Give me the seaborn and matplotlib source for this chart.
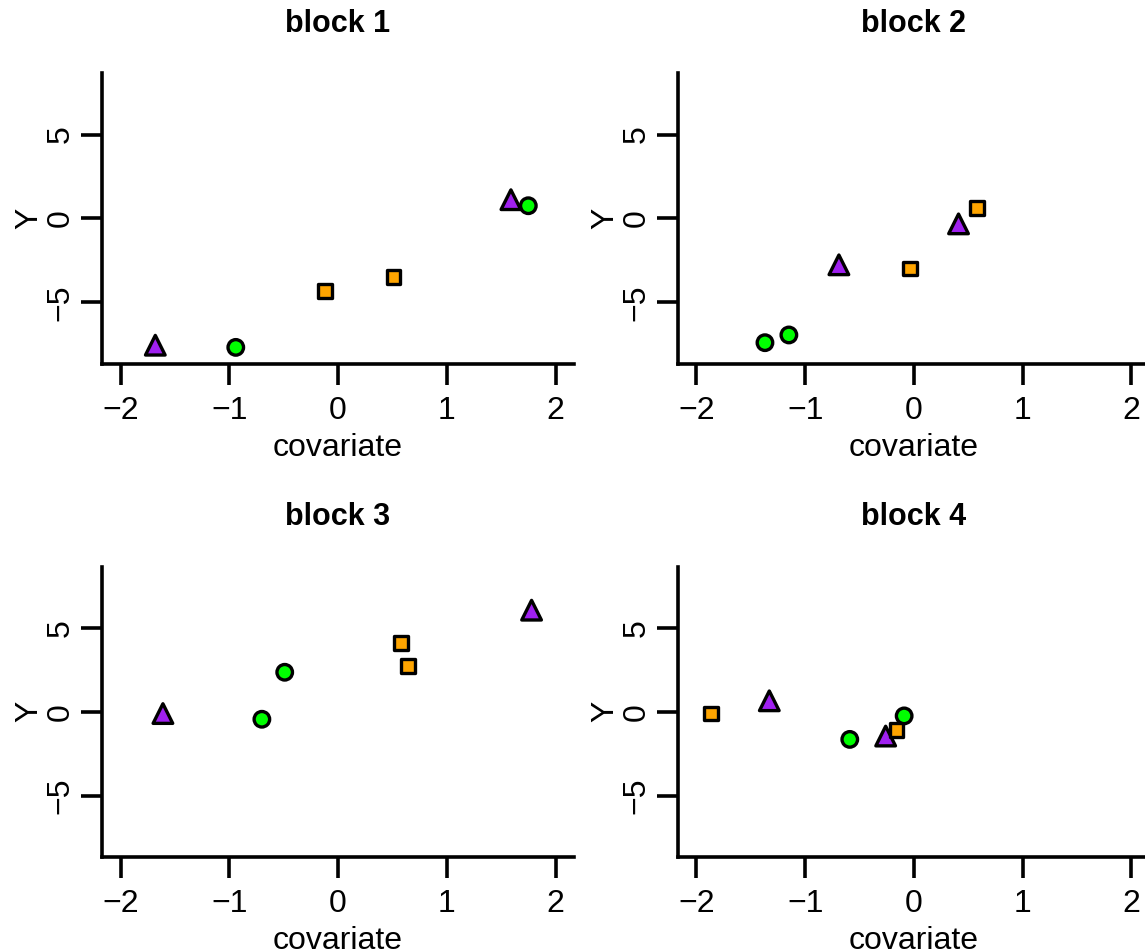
import pandas as pd
import matplotlib
import matplotlib.pyplot as plt
import seaborn as sns

matplotlib.use("Agg")

# values, one list per column
block = [1, 1, 1, 1, 1, 1,
         2, 2, 2, 2, 2, 2,
         3, 3, 3, 3, 3, 3,
         4, 4, 4, 4, 4, 4]
treatment = ["C", "A", "B", "B", "C", "A",
             "A", "A", "C", "B", "C", "B",
             "C", "A", "A", "B", "B", "C",
             "B", "C", "A", "C", "B", "A"]
covariate = [-1.68, -0.94, -0.12, 0.51, 1.59, 1.75,
             -1.37, -1.15, -0.69, -0.04, 0.41, 0.58,
             -1.61, -0.70, -0.49, 0.58, 0.64, 1.78,
             -1.87, -1.33, -0.59, -0.26, -0.16, -0.09]
response = [-7.55, -7.68, -4.34, -3.50, 1.12, 0.76,
            -7.40, -6.94, -2.76, -2.98, -0.32, 0.62,
            -0.10, -0.44, 2.36, 4.10, 2.72, 6.06,
            -0.10, 0.66, -1.64, -1.44, -1.08, -0.24]

groups = ["A", "B", "C"]
group_colors = {"A": "#00FF00", "B": "#FFA500", "C": "#A020F0"}
group_markers = {"A": "o", "B": "s", "C": "^"}
group_sizes = {"A": 125, "B": 100, "C": 200}
x_ticks = [-2, -1, 0, 1, 2]
y_ticks = [-5, 0, 5]

df = pd.DataFrame(
    {"block": block, "treatment": treatment, "covariate": covariate, "Y": response}
)

sns.set_style("ticks")
plt.rcParams.update(
    {
        "font.family": ["Liberation Sans", "DejaVu Sans"],
        "axes.linewidth": 2.6,
        "axes.edgecolor": "black",
        "axes.labelcolor": "black",
        "text.color": "black",
        "xtick.color": "black",
        "ytick.color": "black",
    }
)

fig = plt.figure(figsize=(11.45, 9.51), dpi=100)

# [left, bottom, width, height] in figure fractions, panels in reading order
boxes = [
    [0.0891, 0.6176, 0.4122, 0.3053],
    [0.5921, 0.6176, 0.4122, 0.3053],
    [0.0891, 0.0988, 0.4122, 0.3053],
    [0.5921, 0.0988, 0.4122, 0.3053],
]

for b, box in zip(range(1, 5), boxes):
    ax = fig.add_axes(box)
    sub = df[df["block"] == b]
    sns.scatterplot(
        data=sub,
        x="covariate",
        y="Y",
        hue="treatment",
        style="treatment",
        size="treatment",
        hue_order=groups,
        style_order=groups,
        size_order=groups,
        palette=group_colors,
        markers=group_markers,
        sizes=group_sizes,
        edgecolor="black",
        linewidth=2.4,
        legend=False,
        clip_on=False,
        ax=ax,
    )
    ax.set_xlim(-2.17, 2.17)
    ax.set_ylim(-8.65, 8.65)
    ax.set_xticks(x_ticks)
    ax.set_yticks(y_ticks)
    ax.tick_params(direction="out", length=15, width=2.6, labelsize=23)
    ax.tick_params(axis="x", pad=8)
    ax.tick_params(axis="y", labelrotation=90, pad=4)
    for lab in ax.get_yticklabels():
        lab.set_va("center")
    ax.spines["top"].set_visible(False)
    ax.spines["right"].set_visible(False)
    ax.set_xlabel("covariate", fontsize=23, labelpad=5)
    ax.set_ylabel("Y", fontsize=23)
    ax.yaxis.set_label_coords(-0.122, 0.5)
    ax.set_title(f"block {b}", fontsize=22, fontweight="bold", pad=30)

fig.savefig("out.png", dpi=100)
plt.close(fig)
